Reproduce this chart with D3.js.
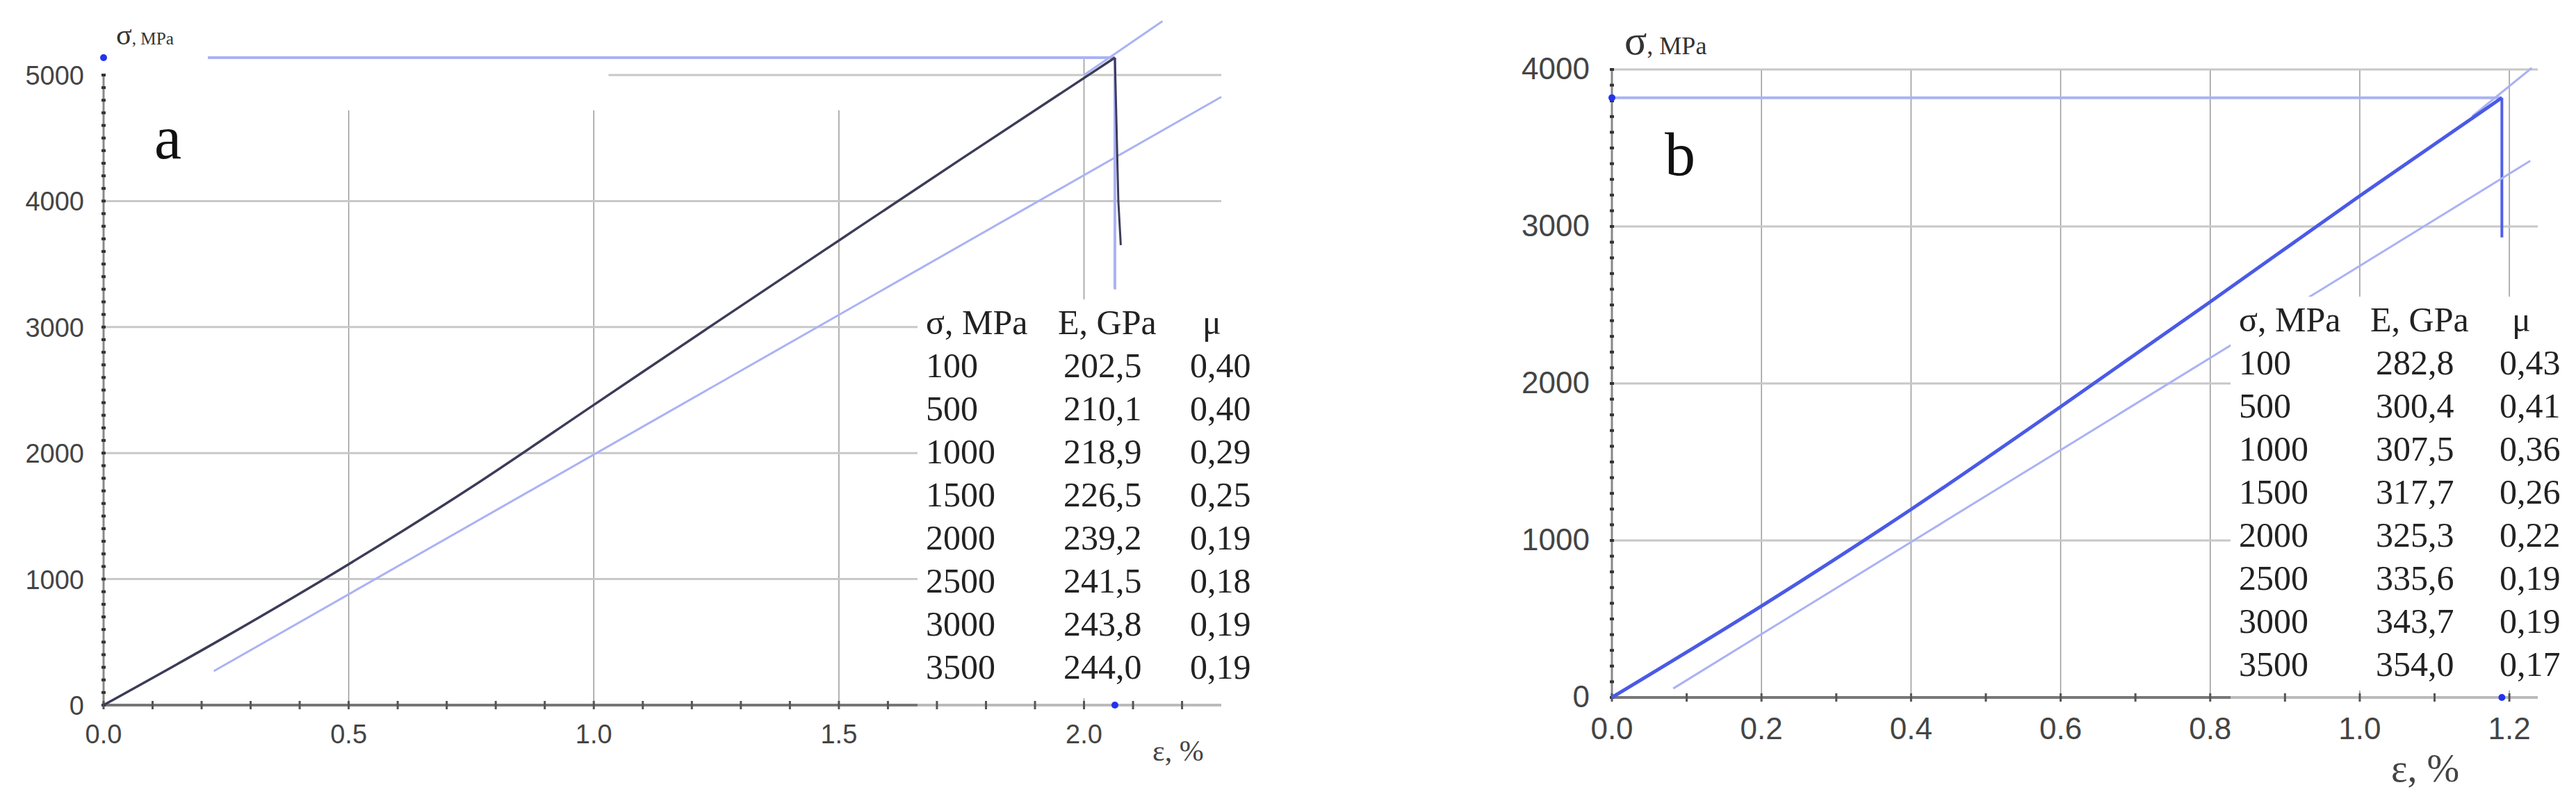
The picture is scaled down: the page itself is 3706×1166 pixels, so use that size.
<!DOCTYPE html>
<html><head><meta charset="utf-8">
<script src="https://cdn.jsdelivr.net/npm/d3@7"></script>
<style>body{margin:0;background:#fff}svg{display:block}</style>
</head><body><svg id="c" width="3706" height="1166"></svg>
<script>
// ---- data ----
const curveA_eps = [0, 0.25, 0.5, 0.75, 1.0, 1.25, 1.5, 1.75, 2.063];
const curveA_sig = [0, 545, 1118, 1728, 2382, 3037, 3687, 4335, 5138];
const dropA_eps = [2.063, 2.07, 2.075];
const dropA_sig = [5138, 4000, 3650];
const peakA = [2.063, 5138];
const tangentA = [[0.225, 270], [2.28, 4826]];
const secantA = [[2.0, 5000], [2.16, 5427]];
const tableA_sigma = ["100","500","1000","1500","2000","2500","3000","3500"];
const tableA_E = ["202,5","210,1","218,9","226,5","239,2","241,5","243,8","244,0"];
const tableA_mu = ["0,40","0,40","0,29","0,25","0,19","0,18","0,19","0,19"];
const xTicksA = [0, 0.5, 1.0, 1.5, 2.0];
const yTicksA = [0, 1000, 2000, 3000, 4000, 5000];

const curveB_eps = [0, 0.2, 0.4, 0.6, 0.8, 1.0, 1.19];
const curveB_sig = [0, 582, 1198, 1852, 2520, 3195, 3820];
const peakB = [1.19, 3820];
const dropB_sig = [3820, 2930];
const tangentB = [[0.082, 57], [1.228, 3418]];
const secantB = [[1.15, 3700], [1.23, 4010]];
const tableB_sigma = ["100","500","1000","1500","2000","2500","3000","3500"];
const tableB_E = ["282,8","300,4","307,5","317,7","325,3","335,6","343,7","354,0"];
const tableB_mu = ["0,43","0,41","0,36","0,26","0,22","0,19","0,19","0,17"];
const xTicksB = [0, 0.2, 0.4, 0.6, 0.8, 1.0, 1.2];
const yTicksB = [0, 1000, 2000, 3000, 4000];

const svg = d3.select("#c");
const light = "#aab2f4", grid = "#c8c8c8";

function panel(o) {
  const g = svg.append("g");
  const x = d3.scaleLinear().domain(o.xd).range(o.xr);
  const y = d3.scaleLinear().domain(o.yd).range(o.yr);
  const line = d3.line().x(d => x(d[0])).y(d => y(d[1]));
  o.vgrid.forEach(v => g.append("line").attr("x1", x(v[0])).attr("x2", x(v[0]))
    .attr("y1", y(v[1])).attr("y2", y(0)).attr("stroke", "#999").attr("stroke-width", 1.5));
  o.hgrid.forEach(h => g.append("line").attr("x1", x(h[1])).attr("x2", x(o.xd[1]))
    .attr("y1", y(h[0])).attr("y2", y(h[0])).attr("stroke", grid).attr("stroke-width", 3));
  g.append("line").attr("x1", x(0) + o.levelStart).attr("x2", x(o.peak[0]))
    .attr("y1", y(o.peak[1])).attr("y2", y(o.peak[1])).attr("stroke", light).attr("stroke-width", 4);
  g.append("line").attr("x1", x(o.peak[0])).attr("x2", x(o.peak[0]))
    .attr("y1", y(o.peak[1])).attr("y2", y(o.vEnd)).attr("stroke", o.vCol).attr("stroke-width", 4);
  g.append("path").datum(o.tangent).attr("d", line).attr("stroke", light).attr("stroke-width", 3).attr("fill", "none");
  g.append("path").datum(o.secant).attr("d", line).attr("stroke", light).attr("stroke-width", 3).attr("fill", "none");
  g.append("rect").attr("x", o.tab.x0 - 12).attr("y", o.tab.y0 - 50).attr("width", x(o.xd[1]) - o.tab.x0 + 40)
    .attr("height", y(0) - o.tab.y0 + 40).attr("fill", "#fff");
  g.append("line").attr("x1", x(0)).attr("x2", x(o.xd[1])).attr("y1", y(0)).attr("y2", y(0)).attr("stroke", "#bbb").attr("stroke-width", 4);
  g.append("line").attr("x1", x(0)).attr("x2", o.tab.x0 - 12).attr("y1", y(0)).attr("y2", y(0)).attr("stroke", "#777").attr("stroke-width", 4);
  g.append("line").attr("x1", x(0)).attr("x2", x(0)).attr("y1", y(0)).attr("y2", y(o.yd[1])).attr("stroke", "#888").attr("stroke-width", 3);
  d3.range(0, o.yd[1] + 1, o.yMinor).forEach(v => g.append("line").attr("x1", x(0) - 3).attr("x2", x(0) + 3)
    .attr("y1", y(v)).attr("y2", y(v)).attr("stroke", "#333").attr("stroke-width", 4));
  d3.range(0, o.xd[1], o.xMinor).forEach(v => g.append("line").attr("x1", x(v)).attr("x2", x(v))
    .attr("y1", y(0) - 6).attr("y2", y(0) + 6).attr("stroke", "#555").attr("stroke-width", 3));
  const pts = o.cx.map((e, i) => [e, o.cy[i]]);
  g.append("path").datum(pts).attr("d", d3.line().x(d => x(d[0])).y(d => y(d[1])).curve(d3.curveMonotoneX))
    .attr("stroke", o.curveCol).attr("stroke-width", o.curveW).attr("fill", "none");
  if (o.drop) g.append("path").datum(o.drop).attr("d", line).attr("stroke", o.curveCol).attr("stroke-width", 3).attr("fill", "none");
  g.append("circle").attr("cx", x(0)).attr("cy", y(o.peak[1])).attr("r", 5).attr("fill", "#2233ee");
  g.append("circle").attr("cx", x(o.peak[0])).attr("cy", y(0)).attr("r", 5).attr("fill", "#2233ee");
  const sans = "Liberation Sans, Arial, sans-serif";
  o.xTicks.forEach(t => g.append("text").attr("x", x(t)).attr("y", y(0) + o.xLabDy).attr("text-anchor", "middle")
    .attr("font-family", sans).attr("font-size", o.tickFs).attr("fill", "#444").text(t.toFixed(1)));
  o.yTicks.forEach(t => g.append("text").attr("x", x(0) - o.yLabDx).attr("y", y(t) + 14).attr("text-anchor", "end")
    .attr("font-family", sans).attr("font-size", o.tickFs).attr("fill", "#444").text(t));
  const serif = "Liberation Serif, Times New Roman, serif";
  g.append("text").attr("x", o.sigLab[0]).attr("y", o.sigLab[1]).attr("font-family", serif).attr("font-size", o.sigFs).attr("fill", "#333")
    .text("σ").append("tspan").attr("font-size", o.sigFs * 0.6).text(", MPa");
  g.append("text").attr("x", o.epsLab[0]).attr("y", o.epsLab[1]).attr("font-family", serif).attr("font-size", o.epsFs).attr("fill", "#444").text("ε, %");
  g.append("text").attr("x", o.letter[0]).attr("y", o.letter[1]).attr("font-family", serif).attr("font-size", 88).attr("fill", "#111").text(o.letterT);
  const cols = [o.tab.c1, o.tab.c2, o.tab.c3];
  const tf = (t, xx, yy) => g.append("text").attr("x", xx).attr("y", yy).attr("font-family", serif)
    .attr("font-size", 50).attr("fill", "#222").text(t);
  tf("σ, MPa", cols[0], o.tab.y0); tf("E, GPa", cols[1] - 8, o.tab.y0); tf("μ", cols[2] + 18, o.tab.y0);
  o.tS.forEach((s, i) => {
    const yy = o.tab.y0 + (i + 1) * 62;
    tf(s, cols[0], yy); tf(o.tE[i], cols[1], yy); tf(o.tM[i], cols[2], yy);
  });
}

panel({
  xd: [0, 2.28], xr: [149, 1757], yd: [0, 5000], yr: [1015, 108],
  vgrid: [[0.5, 4720], [1.0, 4720], [1.5, 4720], [2.0, 5138]],
  hgrid: [[1000, 0], [2000, 0], [3000, 0], [4000, 0], [5000, 1.03]],
  peak: peakA, vEnd: 3300, vCol: light, levelStart: 150,
  tangent: tangentA, secant: secantA,
  tab: { x0: 1332, y0: 481, c1: 1332, c2: 1530, c3: 1712 },
  tS: tableA_sigma, tE: tableA_E, tM: tableA_mu,
  yMinor: 100, xMinor: 0.1,
  cx: curveA_eps, cy: curveA_sig, curveCol: "#3c3c58", curveW: 3.5,
  drop: dropA_eps.map((e, i) => [e, dropA_sig[i]]),
  xTicks: xTicksA, yTicks: yTicksA, xLabDy: 55, yLabDx: 28, tickFs: 38,
  sigLab: [167, 64], sigFs: 42, epsLab: [1658, 1095], epsFs: 42,
  letter: [222, 228], letterT: "a"
});

panel({
  xd: [0, 1.238], xr: [2319, 3651], yd: [0, 4000], yr: [1004, 100],
  vgrid: [[0.2, 4000], [0.4, 4000], [0.6, 4000], [0.8, 4000], [1.0, 4000], [1.2, 4000]],
  hgrid: [[1000, 0], [2000, 0], [3000, 0], [4000, 0]],
  peak: peakB, vEnd: dropB_sig[1], vCol: "#5060e8", levelStart: 0,
  tangent: tangentB, secant: secantB,
  tab: { x0: 3221, y0: 477, c1: 3221, c2: 3418, c3: 3596 },
  tS: tableB_sigma, tE: tableB_E, tM: tableB_mu,
  yMinor: 100, xMinor: 0.1,
  cx: curveB_eps, cy: curveB_sig, curveCol: "#4a5ae6", curveW: 5,
  drop: null,
  xTicks: xTicksB, yTicks: yTicksB, xLabDy: 60, yLabDx: 32, tickFs: 44,
  sigLab: [2337, 78], sigFs: 60, epsLab: [3440, 1125], epsFs: 56,
  letter: [2395, 252], letterT: "b"
});
</script></body></html>
